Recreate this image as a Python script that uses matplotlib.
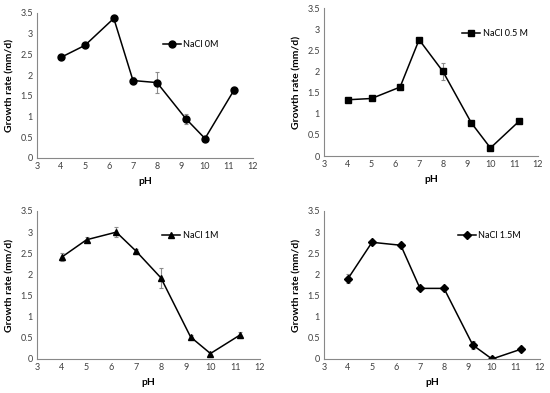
import matplotlib
matplotlib.use("Agg")
import matplotlib.pyplot as plt

plt.rcParams['font.family'] = ['Lato', 'DejaVu Sans']

ph = [4, 5, 6.2, 7, 8, 9.2, 10, 11.2]

rate_0 = [2.43, 2.72, 3.37, 1.87, 1.82, 0.95, 0.47, 1.63]
err_0 = [0.03, 0.03, 0.07, 0.08, 0.25, 0.12, 0.03, 0.08]

rate_05 = [1.33, 1.36, 1.63, 2.75, 2.0, 0.78, 0.19, 0.82]
err_05 = [0.03, 0.03, 0.07, 0.03, 0.2, 0.04, 0.05, 0.03]

rate_1 = [2.41, 2.82, 3.0, 2.55, 1.92, 0.52, 0.13, 0.57]
err_1 = [0.1, 0.06, 0.12, 0.06, 0.23, 0.05, 0.03, 0.07]

rate_15 = [1.9, 2.76, 2.69, 1.67, 1.67, 0.33, 0.0, 0.23]
err_15 = [0.1, 0.03, 0.03, 0.02, 0.02, 0.1, 0.01, 0.02]

W, H = 550, 393
fig = plt.figure(figsize=(W / 100, H / 100), dpi=100)

# (left, right, top, bottom) in pixels, label, marker, data
panels = [
    ((37, 253, 13, 158), "NaCl 0M", "o", 5, rate_0, err_0, (0.88, 0.87)),
    ((324, 538, 8, 156), "NaCl 0.5 M", "s", 5, rate_05, err_05, (0.99, 0.91)),
    ((37, 260, 211, 359), "NaCl 1M", "^", 5, rate_1, err_1, (0.85, 0.92)),
    ((324, 540, 211, 359), "NaCl 1.5M", "D", 4, rate_15, err_15, (0.95, 0.92)),
]

for (l, r, t, b), label, mk, ms, y, e, lpos in panels:
    ax = fig.add_axes([l / W, 1 - b / H, (r - l) / W, (b - t) / H])
    ax.errorbar(ph, y, yerr=e, fmt='none', ecolor='#8c8c8c', elinewidth=0.8,
                capsize=1.5, capthick=0.8)
    ax.plot(ph, y, color='black', lw=1.1, marker=mk, ms=ms, label=label)
    ax.set_xlim(3, 12)
    ax.set_ylim(0, 3.5)
    ax.set_xticks(range(3, 13))
    ax.set_yticks([0, 0.5, 1, 1.5, 2, 2.5, 3, 3.5])
    ax.set_yticklabels(['0', '0.5', '1', '1.5', '2', '2.5', '3', '3.5'])
    ax.spines['top'].set_visible(False)
    ax.spines['right'].set_visible(False)
    ax.spines['left'].set_color('#888888')
    ax.spines['bottom'].set_color('#888888')
    ax.spines['left'].set_linewidth(0.8)
    ax.spines['bottom'].set_linewidth(0.8)
    ax.tick_params(length=0, labelsize=6.5, colors='#404040', pad=3)
    ax.set_xlabel("pH", fontsize=7.5, fontweight='bold', labelpad=4)
    ax.set_ylabel("Growth rate (mm/d)", fontsize=7.5, fontweight='bold', labelpad=4)
    ax.legend(loc='upper right', bbox_to_anchor=lpos, frameon=False,
              fontsize=6.5, handlelength=2.0, handletextpad=0.3)

fig.savefig("out.png", dpi=100)
